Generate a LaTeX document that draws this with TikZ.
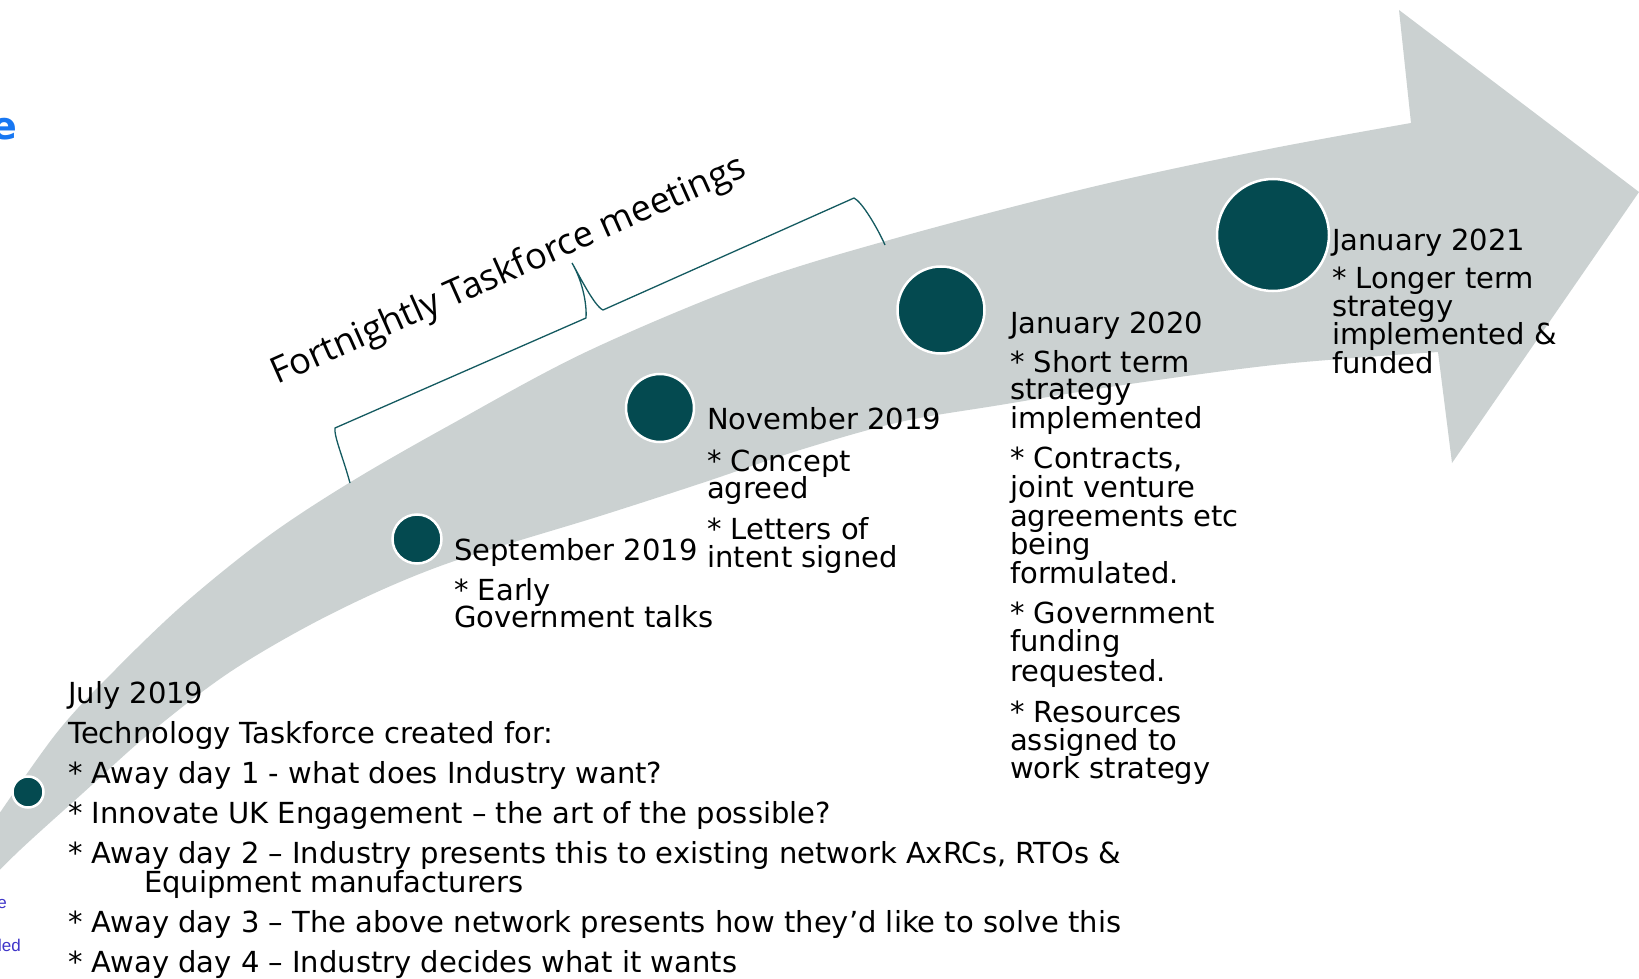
\documentclass[tikz,border=0pt]{standalone}
\usepackage{fontspec}
\setmainfont{DejaVu Sans}
\newfontfamily\labelfont{Open Sans}
\newfontfamily\narrowfont{Liberation Sans}
\definecolor{bandgray}{RGB}{203,209,209}
\definecolor{dotteal}{RGB}{4,74,80}
\definecolor{bracecol}{RGB}{20,90,96}
\definecolor{blueA}{RGB}{24,119,242}
\definecolor{blueB}{RGB}{63,53,201}
\tikzset{
  band/.style={fill=bandgray},
  dot/.style={circle, fill=dotteal, draw=white, line width=2.5pt, inner sep=0pt},
  txt/.style={anchor=base west, inner sep=0pt, font=\fontsize{29}{30}\selectfont, text=black},
  brace/.style={draw=bracecol, line width=1.3pt},
  flabel/.style={anchor=base west, inner sep=0pt, font=\labelfont\fontsize{36.2}{37}\selectfont, rotate=24},
  frag/.style={anchor=base east, inner sep=0pt, font=\narrowfont\fontsize{17}{19}\selectfont, text=blueB},
}
\begin{document}
\begin{tikzpicture}[x=1pt,y=-1pt]
\useasboundingbox (0,0) rectangle (1639,979);
\fill[white] (0,0) rectangle (1639,979);

% curved arrow band
\fill[band] plot[smooth, tension=0.55] coordinates {(-20,842) (55,735) (115,670) (185,603) (267,537) (349,483) (450,425) (586,352) (750,283) (900,237) (1092,187) (1264,150) (1411,123)}
  -- (1399,10) -- (1639,192) -- (1452,463) -- (1438,352)
  -- plot[smooth, tension=0.55] coordinates {(1438,352) (1283,364) (1130,384) (1000,405) (900,422) (800,450) (702,483) (600,516) (443,565) (333,613) (233,670) (150,733) (83,793) (20,850) (-20,890)}
  -- cycle;

% brace
\coordinate (brA) at (350,483);
\coordinate (brB) at (335,428);
\coordinate (brC) at (586,318);
\coordinate (brD) at (572,263);
\coordinate (brE) at (603,310);
\coordinate (brF) at (854,198);
\coordinate (brG) at (885,245);
\draw[brace] (brA) .. controls (343,457) and (334,437) .. (brB) -- (brC)
  .. controls (587,303) and (582,280) .. (brD)
  .. controls (578,273) and (594,306) .. (brE) -- (brF)
  .. controls (862,202) and (877,227) .. (brG);

\node[flabel] (fort) at (277,385) {Fortnightly Taskforce meetings};

% milestone dots
\node[dot, minimum size=31pt] (d1) at (28,792) {};
\node[dot, minimum size=49pt] (d2) at (417,539) {};
\node[dot, minimum size=68pt] (d3) at (660,408) {};
\node[dot, minimum size=87pt] (d4) at (941,310) {};
\node[dot, minimum size=112pt] (d5) at (1273,235) {};

% July 2019 block
\node[txt] (j1) at (68,703) {July 2019};
\node[txt] (j2) at (68,743) {Technology Taskforce created for:};
\node[txt] (j3) at (68,783) {* Away day 1 - what does Industry want?};
\node[txt] (j4) at (68,823) {* Innovate UK Engagement – the art of the possible?};
\node[txt] (j5) at (68,863) {* Away day 2 – Industry presents this to existing network AxRCs, RTOs \&};
\node[txt] (j6) at (144,892) {Equipment manufacturers};
\node[txt] (j7) at (68,932) {* Away day 3 – The above network presents how they’d like to solve this};
\node[txt] (j8) at (68,972) {* Away day 4 – Industry decides what it wants};

% September 2019
\node[txt] (s1) at (454,560) {September 2019};
\node[txt] (s2) at (454,600) {* Early};
\node[txt] (s3) at (454,627) {Government talks};

% November 2019
\node[txt] (n1) at (707,429) {November 2019};
\node[txt] (n2) at (707,471) {* Concept};
\node[txt] (n3) at (707,498) {agreed};
\node[txt] (n4) at (707,539) {* Letters of};
\node[txt] (n5) at (707,567) {intent signed};

% January 2020
\node[txt] (a1) at (1010,333) {January 2020};
\node[txt] (a2) at (1010,372) {* Short term};
\node[txt] (a3) at (1010,399) {strategy};
\node[txt] (a4) at (1010,428) {implemented};
\node[txt] (a5) at (1010,468) {* Contracts,};
\node[txt] (a6) at (1010,497) {joint venture};
\node[txt] (a7) at (1010,526) {agreements etc};
\node[txt] (a8) at (1010,554) {being};
\node[txt] (a9) at (1010,583) {formulated.};
\node[txt] (a10) at (1010,623) {* Government};
\node[txt] (a11) at (1010,651) {funding};
\node[txt] (a12) at (1010,681) {requested.};
\node[txt] (a13) at (1010,722) {* Resources};
\node[txt] (a14) at (1010,750) {assigned to};
\node[txt] (a15) at (1010,778) {work strategy};

% January 2021
\node[txt] (b1) at (1332,250) {January 2021};
\node[txt] (b2) at (1332,288) {* Longer term};
\node[txt] (b3) at (1332,316) {strategy};
\node[txt] (b4) at (1332,344) {implemented \&};
\node[txt] (b5) at (1332,373) {funded};

% cut-off fragments at the left edge
\node[anchor=base east, inner sep=0pt, font=\bfseries\fontsize{38}{40}\selectfont, text=blueA] (frag1) at (17,140) {e};
\node[frag] (frag2) at (7,908) {e};
\node[frag] (frag3) at (21,951) {led};
\end{tikzpicture}
\end{document}
